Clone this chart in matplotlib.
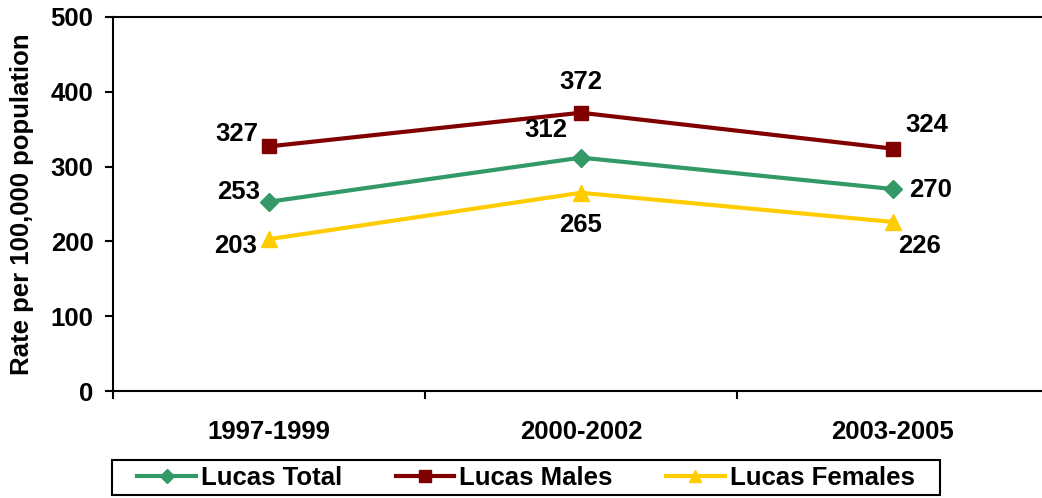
import matplotlib.pyplot as plt
from matplotlib.patches import Rectangle

plt.rcParams['font.family'] = ['Liberation Sans', 'DejaVu Sans']
plt.rcParams['font.weight'] = 'bold'

periods = ['1997-1999', '2000-2002', '2003-2005']
total = [253, 312, 270]
males = [327, 372, 324]
females = [203, 265, 226]

# label offsets (points) per series, per point
total_off = [(-22, 7), (-25, 20), (27, -1)]
males_off = [(-23, 9), (0, 22), (24, 17)]
females_off = [(-24, -5), (0, -23), (19, -17)]

fig = plt.figure(figsize=(10.42, 4.98), dpi=100)
ax = fig.add_axes([113 / 1042, 107 / 498, 936 / 1042, 374 / 498])

x = list(range(len(periods)))
series = [
    ('Lucas Total', total, '#339966', 'D', 9, total_off),
    ('Lucas Males', males, '#800000', 's', 10, males_off),
    ('Lucas Females', females, '#FFCC00', '^', 11, females_off),
]
for name, vals, col, mk, ms, offs in series:
    ax.plot(x, vals, color=col, lw=3, marker=mk, ms=ms, label=name)
    for xi, v, off in zip(x, vals, offs):
        ax.annotate(str(v), (xi, v), xytext=off, textcoords='offset points',
                    ha='center', va='center', fontsize=18.5, fontweight='bold')

ax.set_xlim(-0.5, 2.5)
ax.set_ylim(0, 500)
ax.set_yticks([0, 100, 200, 300, 400, 500])
ax.set_xticks(x)
ax.set_xticklabels(periods)
ax.set_xticks([-0.5, 0.5, 1.5, 2.5], minor=True)
ax.tick_params(axis='x', which='major', length=0, pad=21, labelsize=18.5)
ax.tick_params(axis='x', which='minor', length=6, width=1.5, direction='out')
ax.tick_params(axis='y', length=6, width=1.5, direction='out', pad=8, labelsize=18.5)
for lbl in ax.get_xticklabels() + ax.get_yticklabels():
    lbl.set_fontweight('bold')
for s in ax.spines.values():
    s.set_linewidth(1.5)

ax.set_ylabel('Rate per 100,000 population', fontsize=18.5, fontweight='bold', labelpad=12)

# legend box drawn separately so the padding matches
fig.patches.append(Rectangle((112 / 1042, 3 / 498), 828 / 1042, 35 / 498,
                             transform=fig.transFigure, fill=False,
                             edgecolor='black', lw=1.5))
leg = fig.legend(loc='center', bbox_to_anchor=(526 / 1042, 20.5 / 498), ncol=3,
                 fontsize=18.5, frameon=False, handlelength=2.26,
                 columnspacing=2.1, borderpad=0.1, handletextpad=0.2,
                 markerscale=0.8)

fig.savefig('out.png', dpi=100)
